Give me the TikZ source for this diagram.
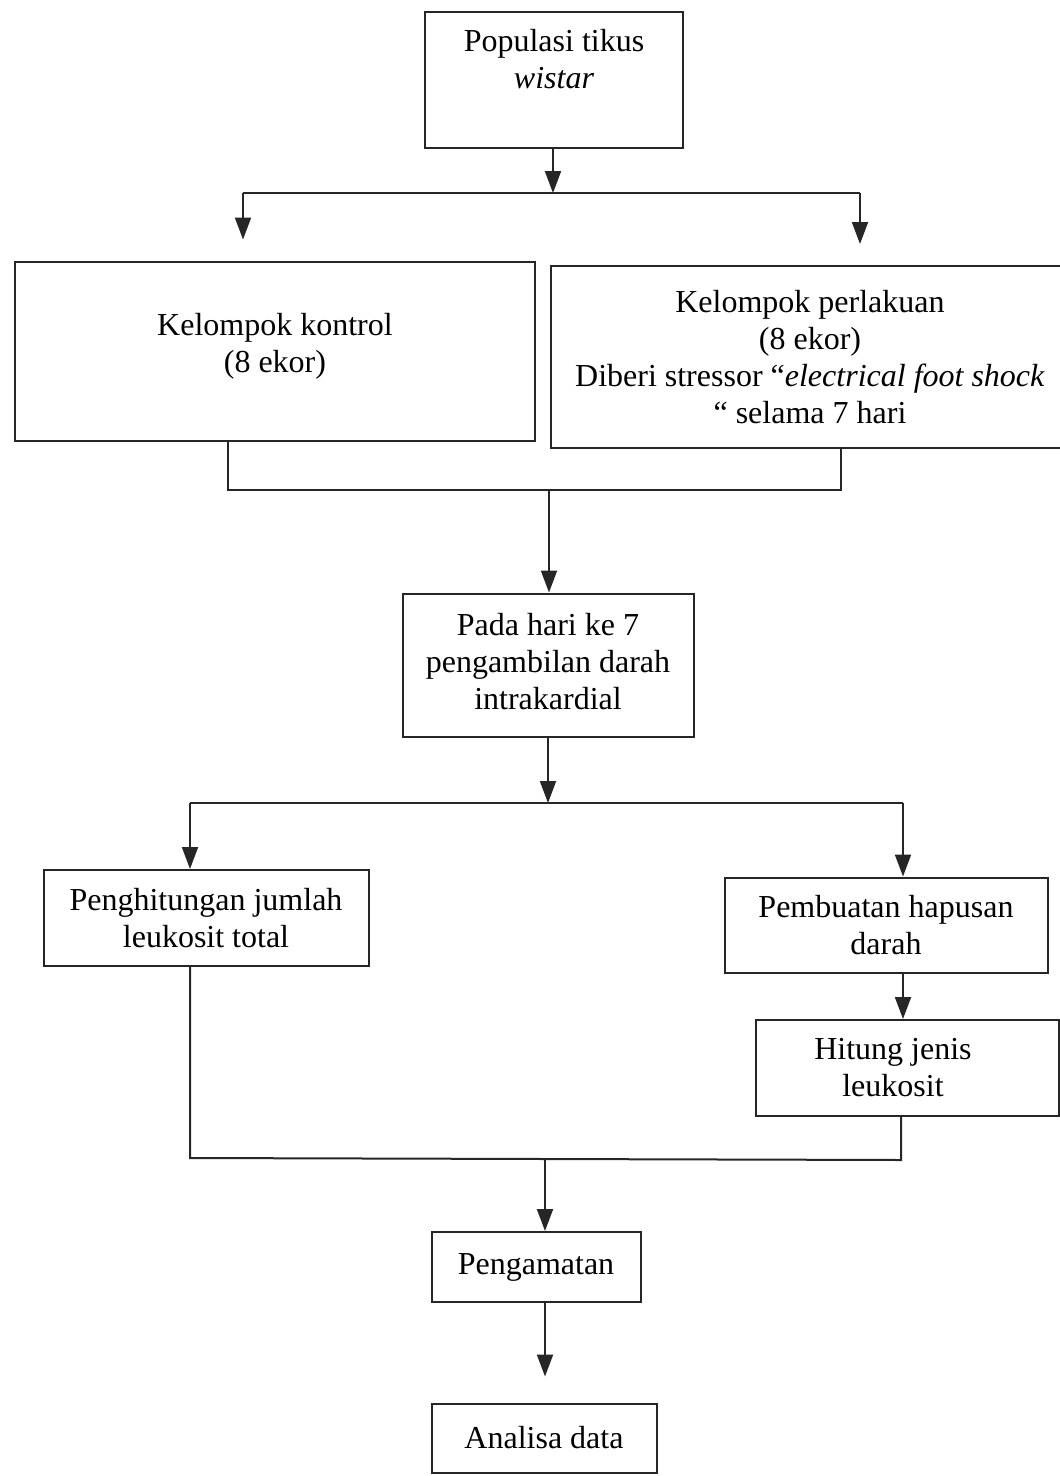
\documentclass[tikz,border=0pt]{standalone}
\usepackage{fontspec}
\setmainfont{Liberation Serif}
\usetikzlibrary{arrows.meta,calc}

\tikzset{
  box/.style={draw=black!85, line width=2pt, align=center, inner sep=0pt,
    font=\fontsize{32}{37}\selectfont},
  flow/.style={draw=black!85, line width=2pt},
  arr/.style={flow, -{Triangle[width=16pt,length=22pt]}},
}

\begin{document}
\begin{tikzpicture}[x=1pt,y=-1pt]
  %%%%% START %%%%%
  \useasboundingbox (0,0) rectangle (1060,1476);

  \node[box, minimum width=258, minimum height=136] (pop) at (554,80) {Populasi tikus\\\textit{wistar}\\[-6pt]\strut};

  \node[box, minimum width=520, minimum height=179] (kontrol) at (275,351) {Kelompok kontrol\\(8 ekor)\\[-21pt]};
  \node[box, minimum width=518, minimum height=182] (perlakuan) at (810,357) {Kelompok perlakuan\\(8 ekor)\\Diberi stressor “\textit{electrical foot shock}\\“ selama 7 hari};

  \node[box, minimum width=291, minimum height=143] (hari) at (548,665) {Pada hari ke 7\\pengambilan darah\\intrakardial\\[-29pt]};

  \node[box, minimum width=325, minimum height=96] (total) at (206,918) {Penghitungan jumlah\\leukosit total};
  \node[box, minimum width=323, minimum height=95] (hapusan) at (886,925) {Pembuatan hapusan\\darah};
  \node[box, minimum width=303, minimum height=96] (jenis) at (907,1068) {Hitung jenis\hspace*{28pt}\\leukosit\hspace*{28pt}};

  \node[box, minimum width=209, minimum height=70] (amat) at (536,1267) {Pengamatan};
  \node[box, minimum width=225, minimum height=69] (analisa) at (544,1438) {Analisa data};

  % split under the population box
  \coordinate (split1) at (553,193);
  \coordinate (sk) at (243,193);
  \coordinate (sp) at (860,193);
  \draw[arr] (pop.south -| split1) -- (split1);
  \draw[flow] (sk) -- (sp);
  \draw[arr, shorten >=21pt] (sk) -- (kontrol.north -| sk);
  \draw[arr, shorten >=21pt] (sp) -- (perlakuan.north -| sp);

  % join of the two groups
  \coordinate (jk) at (228,490);
  \coordinate (jp) at (841,490);
  \coordinate (join1) at (549,490);
  \draw[flow] (kontrol.south -| jk) -- (jk) -- (jp) -- (perlakuan.south -| jp);
  \draw[arr] (join1) -- (hari.north -| join1);

  % split under the blood sampling box
  \coordinate (split2) at (548,803);
  \coordinate (lt) at (190,803);
  \coordinate (rt) at (903,803);
  \draw[arr] (hari.south -| split2) -- (split2);
  \draw[flow] (lt) -- (rt);
  \draw[arr] (lt) -- (total.north -| lt);
  \draw[arr] (rt) -- (hapusan.north -| rt);
  \draw[arr] (hapusan.south -| rt) -- (jenis.north -| rt);

  % join of the two counts
  \coordinate (jl) at (190,1158);
  \coordinate (jr) at (901,1160);
  \coordinate (join2) at (545,1159);
  \draw[flow] (total.south -| jl) -- (jl) -- (jr) -- (jenis.south -| jr);
  \draw[arr] (join2) -- (amat.north -| join2);
  \draw[arr, shorten >=26pt] (amat.south -| join2) -- (analisa.north -| join2);

  %%%%% END %%%%%
\end{tikzpicture}
\end{document}
